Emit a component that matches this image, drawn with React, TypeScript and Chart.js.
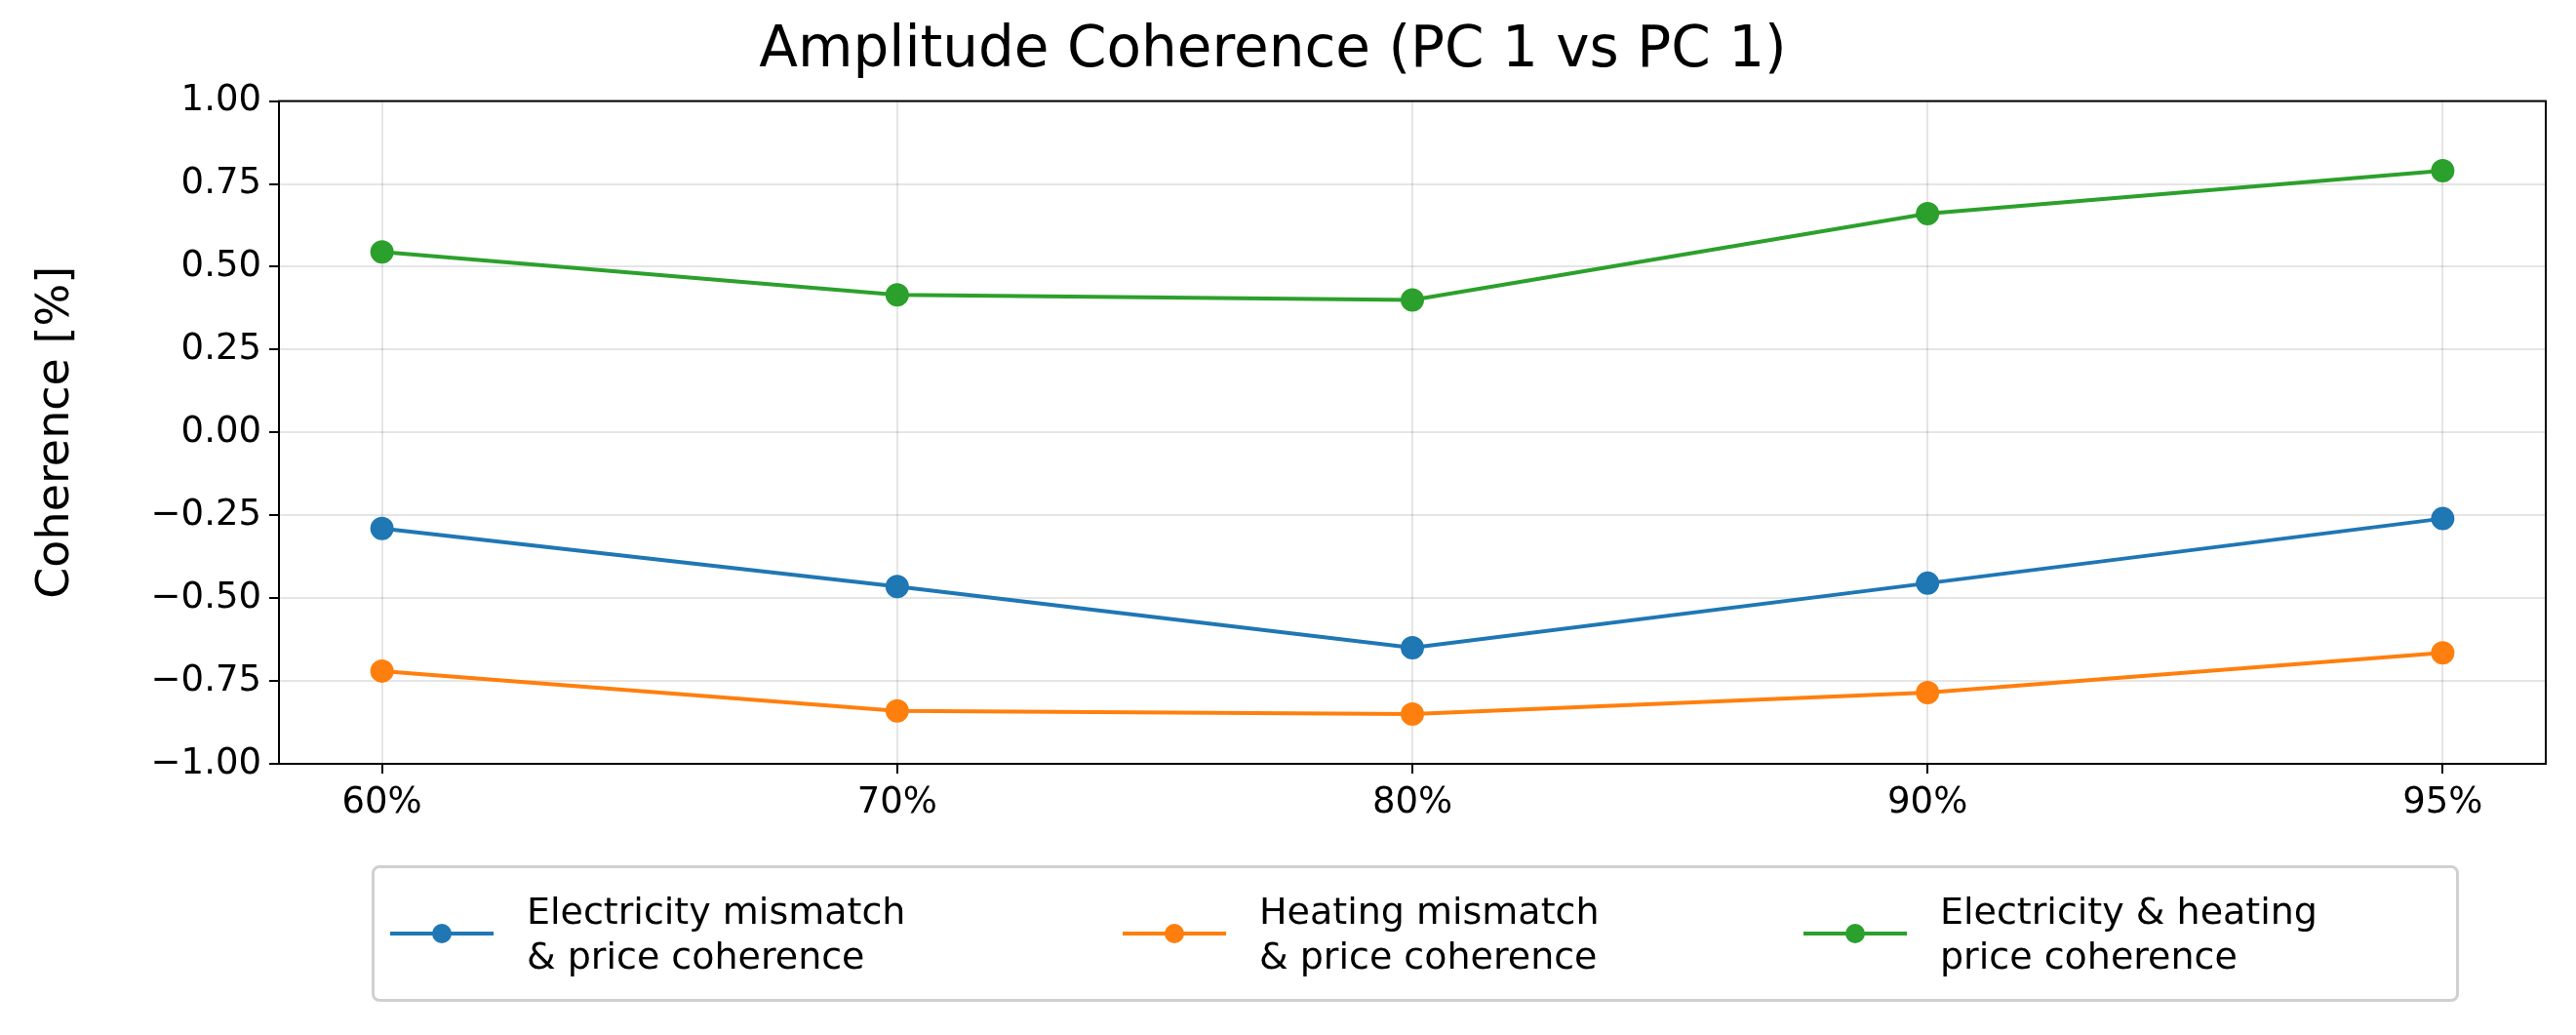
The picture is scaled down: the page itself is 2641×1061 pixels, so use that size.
import { Chart, registerables } from "chart.js";
import { useEffect, useRef } from "react";

Chart.register(...registerables);

const categories = ["60%", "70%", "80%", "90%", "95%"];
const electricity = [-0.29, -0.465, -0.65, -0.455, -0.26];
const heating = [-0.72, -0.84, -0.85, -0.785, -0.665];
const combined = [0.545, 0.415, 0.4, 0.66, 0.79];

const seriesInfo = [
  { label: ["Electricity mismatch", "& price coherence"], data: electricity, color: "#1f77b4" },
  { label: ["Heating mismatch", "& price coherence"], data: heating, color: "#ff7f0e" },
  { label: ["Electricity & heating", "price coherence"], data: combined, color: "#2ca02c" },
];
const legendLefts = [16, 767, 1465];

const FONT = "'DejaVu Sans', sans-serif";

export default function App() {
  const canvasRef = useRef<HTMLCanvasElement | null>(null);
  const chartRef = useRef<Chart | null>(null);

  useEffect(() => {
    document.body.style.margin = "0";
    if (!canvasRef.current) return;
    chartRef.current?.destroy();
    chartRef.current = new Chart(canvasRef.current, {
      type: "line",
      data: {
        datasets: seriesInfo.map((s) => ({
          label: s.label.join(" "),
          data: s.data.map((v, i) => ({ x: i, y: v })),
          borderColor: s.color,
          backgroundColor: s.color,
          borderWidth: 4,
          pointRadius: 10,
          pointHoverRadius: 10,
          tension: 0,
        })),
      },
      options: {
        animation: false,
        responsive: false,
        devicePixelRatio: 1,
        layout: { padding: { left: 0, right: 31, top: 0, bottom: 213 } },
        plugins: {
          legend: { display: false },
          tooltip: { enabled: false },
          title: {
            display: true,
            text: "Amplitude Coherence (PC 1 vs PC 1)",
            color: "#000",
            font: { family: FONT, size: 58, weight: "normal" },
            padding: { top: 18, bottom: 16 },
          },
        },
        scales: {
          x: {
            type: "linear",
            min: -0.2,
            max: 4.2,
            afterFit: (s: any) => { s.height = 65; },
            afterBuildTicks: (s: any) => { s.ticks = categories.map((_, i) => ({ value: i })); },
            ticks: {
              callback: (v: any) => categories[v] ?? "",
              color: "#000",
              font: { family: FONT, size: 37 },
              padding: 8,
            },
            grid: { color: "rgba(0,0,0,0.1)", lineWidth: 2, tickLength: 10, tickColor: "#000" },
            border: { color: "#000", width: 2 },
          },
          y: {
            min: -1,
            max: 1,
            afterFit: (s: any) => { s.width = 286; },
            ticks: {
              stepSize: 0.25,
              callback: (v: any) => Number(v).toFixed(2).replace("-", "\u2212"),
              color: "#000",
              font: { family: FONT, size: 37 },
              padding: 8,
            },
            title: {
              display: true,
              text: "Coherence [%]",
              color: "#000",
              font: { family: FONT, size: 46 },
              padding: { top: 30, bottom: 0 },
            },
            grid: { color: "rgba(0,0,0,0.1)", lineWidth: 2, tickLength: 10, tickColor: "#000" },
            border: { color: "#000", width: 2 },
          },
        },
      },
      plugins: [
        {
          id: "frame",
          afterDraw(c: any) {
            const { left, right, top, bottom } = c.chartArea;
            const ctx = c.ctx;
            ctx.save();
            ctx.strokeStyle = "#000";
            ctx.lineWidth = 2;
            ctx.strokeRect(left, top, right - left, bottom - top);
            ctx.restore();
          },
        },
      ],
    });
    return () => {
      chartRef.current?.destroy();
      chartRef.current = null;
    };
  }, []);

  return (
    <div style={{ position: "relative", width: 2641, height: 1061, background: "#fff" }}>
      <canvas ref={canvasRef} width={2641} height={1061} style={{ width: 2641, height: 1061 }} />
      <div
        style={{
          position: "absolute",
          left: 381,
          top: 887,
          width: 2140,
          height: 140,
          boxSizing: "border-box",
          border: "3px solid #d0d0d0",
          borderRadius: 8,
          fontFamily: FONT,
          fontSize: 38,
          color: "#000",
        }}
      >
        {seriesInfo.map((s, i) => (
          <div
            key={i}
            style={{ position: "absolute", left: legendLefts[i], top: 0, height: "100%", display: "flex", alignItems: "center" }}
          >
            <svg width={106} height={24} style={{ marginRight: 34 }}>
              <line x1={0} y1={12} x2={106} y2={12} stroke={s.color} strokeWidth={4} />
              <circle cx={53} cy={12} r={10} fill={s.color} />
            </svg>
            <div style={{ lineHeight: "46px", whiteSpace: "nowrap" }}>
              {s.label[0]}
              <br />
              {s.label[1]}
            </div>
          </div>
        ))}
      </div>
    </div>
  );
}
